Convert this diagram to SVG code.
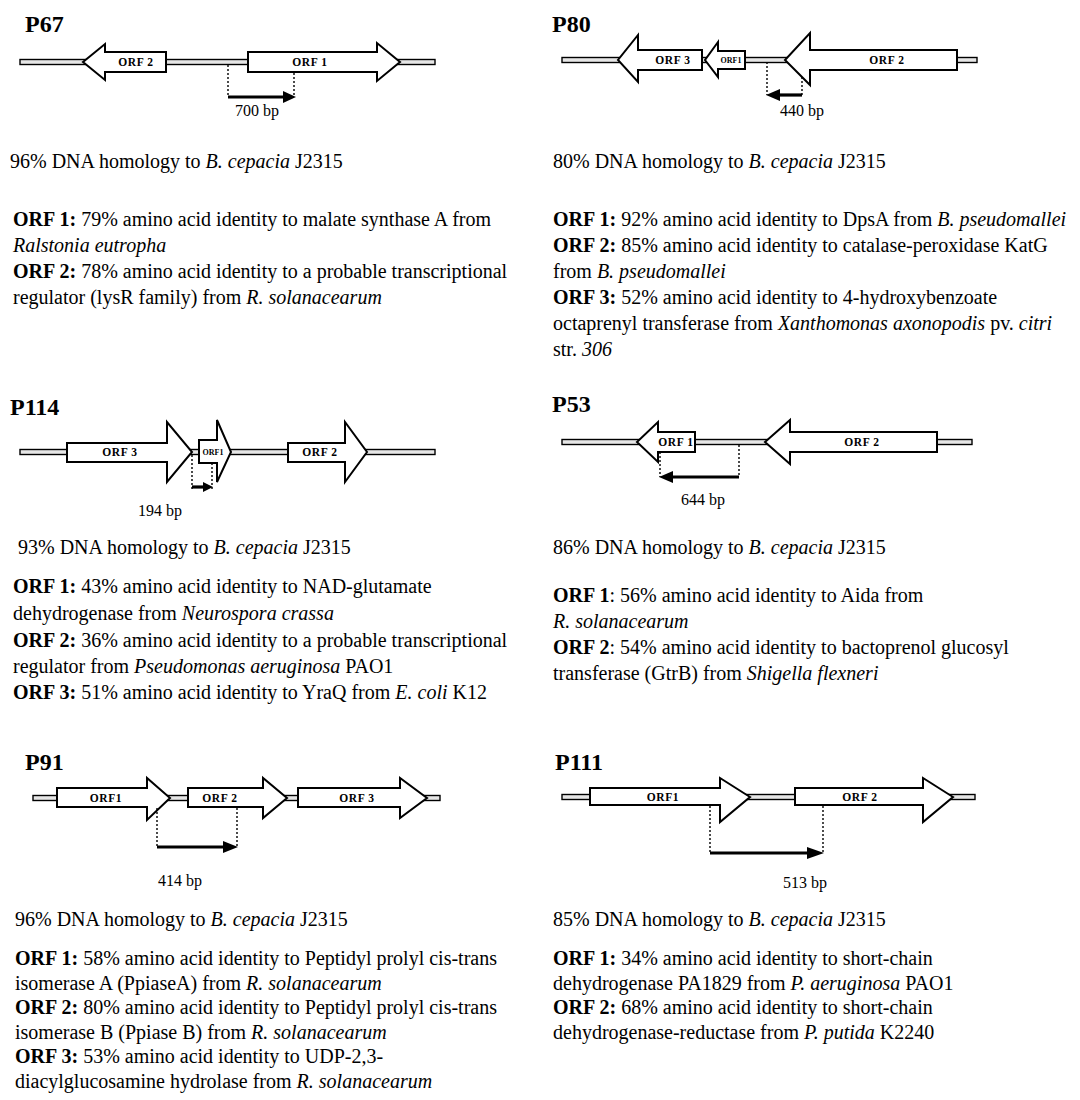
<svg xmlns="http://www.w3.org/2000/svg" width="1080" height="1100" viewBox="0 0 1080 1100">
<style>
.bg{fill:#fff}
.dna{fill:#e6e6e6;stroke:#000;stroke-width:1.4}
.gene{fill:#fff;stroke:#000;stroke-width:2;stroke-linejoin:miter}
.dot{stroke:#000;stroke-width:1.4;stroke-dasharray:2 2;fill:none}
.bar{stroke:#000;stroke-width:3.2;fill:none}
.head{fill:#000}
.title{font-family:"Liberation Serif",serif;font-weight:bold;font-size:24px;fill:#000}
.glab{font-family:"Liberation Serif",serif;font-weight:bold;font-size:11.5px;letter-spacing:0.6px;fill:#000;text-anchor:middle}
.glabs{font-family:"Liberation Serif",serif;font-weight:bold;font-size:8px;fill:#000;text-anchor:middle}
.bp{font-family:"Liberation Serif",serif;font-size:16px;fill:#000;text-anchor:middle}
.body{font-family:"Liberation Serif",serif;font-size:20px;fill:#000}
.b{font-weight:bold}
.i{font-style:italic}
</style>
<rect class="bg" x="0" y="0" width="1080" height="1100"/>

<!-- P67 -->
<g id="P67">
<text class="title" x="25" y="32">P67</text>
<rect class="dna" x="20" y="59.5" width="415" height="5"/>
<g id="P67-ORF2"><polygon class="gene" points="166,52 105,52 105,44 83,62 105,80 105,72 166,72"/><text class="glab" x="136" y="66">ORF 2</text></g>
<g id="P67-ORF1"><polygon class="gene" points="248,52 377,52 377,43 400,62 377,81 377,72 248,72"/><text class="glab" x="310" y="66">ORF 1</text></g>
<line class="dot" x1="228" y1="65" x2="228" y2="97"/>
<line class="dot" x1="294" y1="73" x2="294" y2="97"/>
<line class="bar" x1="228" y1="97" x2="284" y2="97"/>
<polygon class="head" points="283,91 296,97 283,103"/>
<text class="bp" x="257" y="116">700 bp</text>
<text class="body" x="10" y="168">96% DNA homology to <tspan class="i">B. cepacia</tspan> J2315</text>
<text class="body" x="13" y="226"><tspan class="b">ORF 1:</tspan> 79% amino acid identity to malate synthase A from</text>
<text class="body" x="13" y="252"><tspan class="i">Ralstonia eutropha</tspan></text>
<text class="body" x="13" y="278"><tspan class="b">ORF 2:</tspan> 78% amino acid identity to a probable transcriptional</text>
<text class="body" x="13" y="304">regulator (lysR family) from <tspan class="i">R. solanacearum</tspan></text>
</g>

<!-- P80 -->
<g id="P80">
<text class="title" x="552" y="32">P80</text>
<rect class="dna" x="562" y="57.5" width="415" height="5"/>
<g id="P80-ORF3"><polygon class="gene" points="702,50 638,50 638,35 618,60 638,82 638,70 702,70"/><text class="glab" x="673" y="64">ORF 3</text></g>
<g id="P80-ORF1"><polygon class="gene" points="745,51 718,51 718,42 705,60 718,77 718,69 745,69"/><text class="glabs" x="731" y="63">ORF1</text></g>
<g id="P80-ORF2"><polygon class="gene" points="957,50 810,50 810,33 785,60 810,85 810,70 957,70"/><text class="glab" x="887" y="64">ORF 2</text></g>
<line class="dot" x1="767" y1="62" x2="767" y2="95"/>
<line class="dot" x1="802" y1="77" x2="802" y2="95"/>
<line class="bar" x1="802" y1="95" x2="779" y2="95"/>
<polygon class="head" points="780,89 766,95 780,101"/>
<text class="bp" x="802" y="116">440 bp</text>
<text class="body" x="553" y="168">80% DNA homology to <tspan class="i">B. cepacia</tspan> J2315</text>
<text class="body" x="553" y="226"><tspan class="b">ORF 1:</tspan> 92% amino acid identity to DpsA from <tspan class="i">B. pseudomallei</tspan></text>
<text class="body" x="553" y="252"><tspan class="b">ORF 2:</tspan> 85% amino acid identity to catalase-peroxidase KatG</text>
<text class="body" x="553" y="278">from <tspan class="i">B. pseudomallei</tspan></text>
<text class="body" x="553" y="304"><tspan class="b">ORF 3:</tspan> 52% amino acid identity to 4-hydroxybenzoate</text>
<text class="body" x="553" y="330">octaprenyl transferase from <tspan class="i">Xanthomonas axonopodis</tspan> pv. <tspan class="i">citri</tspan></text>
<text class="body" x="553" y="356">str. <tspan class="i">306</tspan></text>
</g>

<!-- P114 -->
<g id="P114">
<text class="title" x="10" y="415">P114</text>
<rect class="dna" x="20" y="449.5" width="415" height="5"/>
<g id="P114-ORF3"><polygon class="gene" points="67,443 167,443 167,422 192,452 167,482 167,462 67,462"/><text class="glab" x="120" y="456">ORF 3</text></g>
<g id="P114-ORF1"><polygon class="gene" points="199,440 217,440 217,420 231,452 217,482 217,463 199,463"/><text class="glabs" x="213" y="455">ORF1</text></g>
<g id="P114-ORF2"><polygon class="gene" points="288,443 345,443 345,422 367,452 345,482 345,462 288,462"/><text class="glab" x="320" y="456">ORF 2</text></g>
<line class="dot" x1="192" y1="455" x2="192" y2="490"/>
<line class="dot" x1="212" y1="463" x2="212" y2="490"/>
<line class="bar" x1="192" y1="487" x2="204" y2="487"/>
<polygon class="head" points="203,482 213,487 203,492"/>
<text class="bp" x="160" y="516">194 bp</text>
<text class="body" x="18" y="554">93% DNA homology to <tspan class="i">B. cepacia</tspan> J2315</text>
<text class="body" x="13" y="593"><tspan class="b">ORF 1:</tspan> 43% amino acid identity to NAD-glutamate</text>
<text class="body" x="13" y="620">dehydrogenase from <tspan class="i">Neurospora crassa</tspan></text>
<text class="body" x="13" y="647"><tspan class="b">ORF 2:</tspan> 36% amino acid identity to a probable transcriptional</text>
<text class="body" x="13" y="673">regulator from <tspan class="i">Pseudomonas aeruginosa</tspan> PAO1</text>
<text class="body" x="13" y="699"><tspan class="b">ORF 3:</tspan> 51% amino acid identity to YraQ from <tspan class="i">E. coli</tspan> K12</text>
</g>

<!-- P53 -->
<g id="P53">
<text class="title" x="552" y="412">P53</text>
<rect class="dna" x="562" y="439.5" width="410" height="5"/>
<g id="P53-ORF1"><polygon class="gene" points="695,432 658,432 658,422 637,442 658,462 658,452 695,452"/><text class="glab" x="676" y="446">ORF 1</text></g>
<g id="P53-ORF2"><polygon class="gene" points="937,432 790,432 790,420 765,442 790,464 790,452 937,452"/><text class="glab" x="862" y="446">ORF 2</text></g>
<line class="dot" x1="660" y1="452" x2="660" y2="477"/>
<line class="dot" x1="739" y1="445" x2="739" y2="477"/>
<line class="bar" x1="739" y1="477" x2="671" y2="477"/>
<polygon class="head" points="673,471 659,477 673,483"/>
<text class="bp" x="703" y="505">644 bp</text>
<text class="body" x="553" y="554">86% DNA homology to <tspan class="i">B. cepacia</tspan> J2315</text>
<text class="body" x="553" y="602"><tspan class="b">ORF 1</tspan>: 56% amino acid identity to Aida from</text>
<text class="body" x="553" y="628"><tspan class="i">R. solanacearum</tspan></text>
<text class="body" x="553" y="654"><tspan class="b">ORF 2</tspan>: 54% amino acid identity to bactoprenol glucosyl</text>
<text class="body" x="553" y="680">transferase (GtrB) from <tspan class="i">Shigella flexneri</tspan></text>
</g>

<!-- P91 -->
<g id="P91">
<text class="title" x="25" y="770">P91</text>
<rect class="dna" x="33" y="795.5" width="407" height="5"/>
<g id="P91-ORF1"><polygon class="gene" points="57,788 147,788 147,778 170,798 147,820 147,807 57,807"/><text class="glab" x="106" y="802">ORF1</text></g>
<g id="P91-ORF2"><polygon class="gene" points="188,788 263,788 263,778 287,798 263,818 263,807 188,807"/><text class="glab" x="220" y="802">ORF 2</text></g>
<g id="P91-ORF3"><polygon class="gene" points="298,788 400,788 400,778 427,798 400,818 400,807 298,807"/><text class="glab" x="357" y="802">ORF 3</text></g>
<line class="dot" x1="157" y1="808" x2="157" y2="848"/>
<line class="dot" x1="237" y1="808" x2="237" y2="848"/>
<line class="bar" x1="157" y1="847" x2="224" y2="847"/>
<polygon class="head" points="223,841 238,847 223,853"/>
<text class="bp" x="180" y="886">414 bp</text>
<text class="body" x="15" y="926">96% DNA homology to <tspan class="i">B. cepacia</tspan> J2315</text>
<text class="body" x="15" y="965"><tspan class="b">ORF 1:</tspan> 58% amino acid identity to Peptidyl prolyl cis-trans</text>
<text class="body" x="15" y="990">isomerase A (PpiaseA) from <tspan class="i">R. solanacearum</tspan></text>
<text class="body" x="15" y="1014"><tspan class="b">ORF 2:</tspan> 80% amino acid identity to Peptidyl prolyl cis-trans</text>
<text class="body" x="15" y="1039">isomerase B (Ppiase B) from <tspan class="i">R. solanacearum</tspan></text>
<text class="body" x="15" y="1063"><tspan class="b">ORF 3:</tspan> 53% amino acid identity to UDP-2,3-</text>
<text class="body" x="15" y="1088">diacylglucosamine hydrolase from <tspan class="i">R. solanacearum</tspan></text>
</g>

<!-- P111 -->
<g id="P111">
<text class="title" x="555" y="770">P111</text>
<rect class="dna" x="562" y="794.5" width="413" height="5"/>
<g id="P111-ORF1"><polygon class="gene" points="590,788 720,788 720,778 750,797 720,822 720,805 590,805"/><text class="glab" x="663" y="801">ORF1</text></g>
<g id="P111-ORF2"><polygon class="gene" points="795,788 923,788 923,778 953,797 923,822 923,805 795,805"/><text class="glab" x="860" y="801">ORF 2</text></g>
<line class="dot" x1="710" y1="806" x2="710" y2="853"/>
<line class="dot" x1="823" y1="806" x2="823" y2="853"/>
<line class="bar" x1="710" y1="853" x2="808" y2="853"/>
<polygon class="head" points="807,847 824,853 807,859"/>
<text class="bp" x="805" y="888">513 bp</text>
<text class="body" x="553" y="926">85% DNA homology to <tspan class="i">B. cepacia</tspan> J2315</text>
<text class="body" x="553" y="965"><tspan class="b">ORF 1:</tspan> 34% amino acid identity to short-chain</text>
<text class="body" x="553" y="990">dehydrogenase PA1829 from <tspan class="i">P. aeruginosa</tspan> PAO1</text>
<text class="body" x="553" y="1014"><tspan class="b">ORF 2:</tspan> 68% amino acid identity to short-chain</text>
<text class="body" x="553" y="1039">dehydrogenase-reductase  from <tspan class="i">P. putida</tspan> K2240</text>
</g>
</svg>
